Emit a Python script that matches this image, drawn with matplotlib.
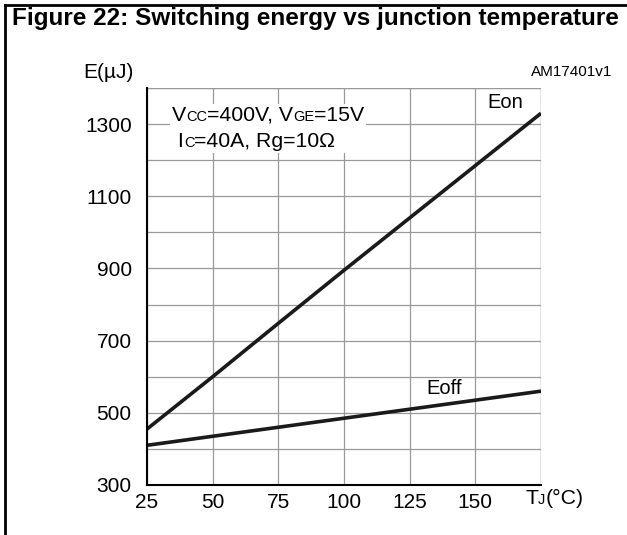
import matplotlib
matplotlib.use("Agg")
import matplotlib.pyplot as plt
import numpy as np
from matplotlib.lines import Line2D
from matplotlib.offsetbox import TextArea, HPacker, VPacker, AnnotationBbox

plt.rcParams['font.family'] = ['Liberation Sans', 'DejaVu Sans']

# data
tj = [25, 50, 75, 100, 125, 150, 175]
eon = [455, 600, 748, 895, 1040, 1185, 1330]
eoff = [410, 435, 460, 485, 510, 535, 560]
xtick_labels = ["25", "50", "75", "100", "125", "150"]
ytick_vals = [300, 500, 700, 900, 1100, 1300]

W, H = 627, 535
fig = plt.figure(figsize=(W / 100, H / 100), dpi=100)

def fx(px):
    return px / W

def fy(py):
    return 1 - py / H

# outer frame: left and top edges only
fig.add_artist(Line2D([fx(5), fx(5)], [fy(5), 0], color="black", lw=2, transform=fig.transFigure))
fig.add_artist(Line2D([fx(5), 1], [fy(5), fy(5)], color="black", lw=2, transform=fig.transFigure))
fig.text(fx(12), fy(19), "Figure 22: Switching energy vs junction temperature",
         fontsize=17.5, fontweight="bold", ha="left", va="center")

ax = fig.add_axes([fx(147), fy(485), fx(541) - fx(147), fy(88) - fy(485)])
ax.plot(tj, eon, color="#1a1a1a", lw=2.6, solid_capstyle="butt", zorder=3)
ax.plot(tj, eoff, color="#1a1a1a", lw=2.6, solid_capstyle="butt", zorder=3)

ax.set_xlim(25, 175)
ax.set_ylim(300, 1400)
ax.set_xticks(tj)
ax.set_xticklabels(xtick_labels + [""])
ax.set_yticks(np.arange(300, 1401, 100), minor=False)
ax.set_yticklabels([str(v) if v in ytick_vals else "" for v in np.arange(300, 1401, 100)])
ax.tick_params(length=0, labelsize=15)
ax.tick_params(axis="y", pad=11)
ax.tick_params(axis="x", pad=6)
ax.grid(True, color="#999999", lw=0.9)
ax.set_axisbelow(True)
for s in ["top", "right"]:
    ax.spines[s].set_visible(False)
for s in ["left", "bottom"]:
    ax.spines[s].set_linewidth(1.5)
    ax.spines[s].set_zorder(4)

# extra grid line on the right edge and top edge
ax.axvline(175, color="#999999", lw=0.9, zorder=0)
ax.axhline(1400, color="#999999", lw=0.9, zorder=0)

big = dict(fontsize=15.3, color="black")
small = dict(fontsize=10.5, color="black")

def rich(parts):
    return HPacker(children=[TextArea(t, textprops=p) for t, p in parts],
                   align="baseline", pad=0, sep=0)

line1 = rich([("V", big), ("CC", small), ("=400V, V", big), ("GE", small), ("=15V", big)])
line2 = rich([(" I", big), ("C", small), ("=40A, Rg=10Ω", big)])
box = VPacker(children=[line1, line2], align="left", pad=0, sep=5)
ab = AnnotationBbox(box, (fx(172), fy(106)), xycoords="figure fraction",
                    box_alignment=(0, 1), frameon=True, pad=0.15,
                    bboxprops=dict(facecolor="white", edgecolor="none"), zorder=2)
ax.add_artist(ab)

tlabel = rich([("T", big), ("J", small), ("(°C)", big)])
ab2 = AnnotationBbox(tlabel, (fx(525), fy(498)), xycoords="figure fraction",
                     box_alignment=(0, 0.5), frameon=False, pad=0)
fig.add_artist(ab2)

fig.text(fx(83), fy(72), "E(µJ)", fontsize=15, ha="left", va="center")
fig.text(fx(612), fy(72), "AM17401v1", fontsize=11, ha="right", va="center")
fig.text(fx(487), fy(103), "Eon", fontsize=14.5, ha="left", va="center")
fig.text(fx(426), fy(388), "Eoff", fontsize=14.5, ha="left", va="center")

fig.savefig("out.png", dpi=100)
